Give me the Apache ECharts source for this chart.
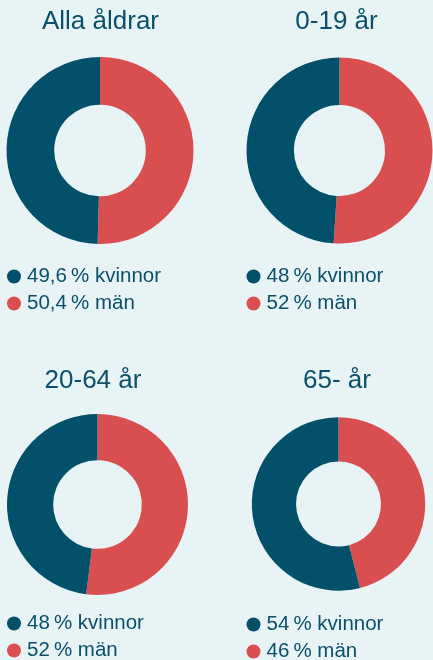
<!DOCTYPE html>
<html>
<head>
<meta charset="utf-8">
<style>
html,body{margin:0;padding:0;background:#e8f3f6;}
#c{width:433px;height:660px;}
</style>
<script src="https://cdn.jsdelivr.net/npm/echarts@6/dist/echarts.min.js"></script>
</head>
<body>
<div id="c"></div>
<script>
const titles = ['Alla åldrar', '0-19 år', '20-64 år', '65- år'];
const kvinnor = [49.6, 49, 48, 54];
const man = [50.4, 51, 52, 46];
const kvinnorLabels = ['49,6\u2009% kvinnor', '48\u2009% kvinnor', '48\u2009% kvinnor', '54\u2009% kvinnor'];
const manLabels = ['50,4\u2009% män', '52\u2009% män', '52\u2009% män', '46\u2009% män'];

const DARK = '#03506b';
const RED = '#d94f50';
const TXT = '#0b4f6a';
const FONT = '"Liberation Sans", Arial, sans-serif';

const layout = [
  {cx: 100, cy: 150.5, r: 93.5, tx: 100.5, ty: 9, lx: 7, ly: 263, gap: 27},
  {cx: 339.5, cy: 150.5, r: 93, tx: 336.5, ty: 9, lx: 246.5, ly: 263, gap: 27},
  {cx: 97.5, cy: 504.5, r: 90.5, tx: 93, ty: 368, lx: 7, ly: 610, gap: 27},
  {cx: 338.5, cy: 504, r: 86.7, tx: 337, ty: 368, lx: 246.5, ly: 611, gap: 27}
];

const labelMap = {};
const series = [], title = [], legend = [];
titles.forEach((t, i) => {
  const L = layout[i];
  const kn = 'k' + i, mn = 'm' + i;
  labelMap[kn] = kvinnorLabels[i];
  labelMap[mn] = manLabels[i];
  title.push({
    text: t, left: L.tx, top: L.ty, textAlign: 'center', padding: 0,
    textStyle: {fontFamily: FONT, fontSize: 26, fontWeight: 'normal', color: TXT}
  });
  series.push({
    type: 'pie', center: [L.cx, L.cy], radius: [L.r * 0.49, L.r],
    startAngle: 90, clockwise: true, silent: true,
    label: {show: false}, labelLine: {show: false},
    itemStyle: {borderWidth: 0},
    data: [
      {name: mn, value: man[i], itemStyle: {color: RED}},
      {name: kn, value: kvinnor[i], itemStyle: {color: DARK}}
    ]
  });
  legend.push({
    orient: 'vertical', left: L.lx, top: L.ly, height: 80, width: 190,
    data: [kn, mn], icon: 'circle', itemWidth: 14, itemHeight: 14, itemGap: 0,
    selectedMode: false, padding: 0,
    formatter: n => labelMap[n],
    textStyle: {fontFamily: FONT, fontSize: 20.5, color: TXT, lineHeight: L.gap, padding: [0, 0, 0, 1]}
  });
});

const chart = echarts.init(document.getElementById('c'));
chart.setOption({
  backgroundColor: '#e8f3f6',
  animation: false,
  title, legend, series
});
</script>
</body>
</html>
